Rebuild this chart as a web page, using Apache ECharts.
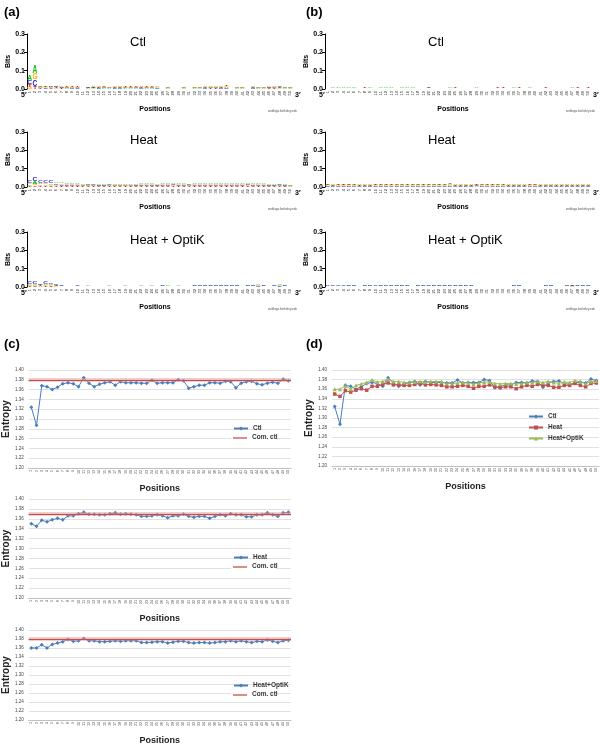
<!DOCTYPE html>
<html><head><meta charset="utf-8">
<script src="https://cdn.jsdelivr.net/npm/echarts@6/dist/echarts.min.js"></script>
<style>html,body{margin:0;padding:0;background:#fff}#c{width:600px;height:746px}</style>
</head><body><div id="c"></div>
<script>
// ---------- data ----------
const positions = ['1','2','3','4','5','6','7','8','9','10','11','12','13','14','15','16','17','18','19','20','21','22','23','24','25','26','27','28','29','30','31','32','33','34','35','36','37','38','39','40','41','42','43','44','45','46','47','48','49','50'];
const bitsTicks = [0, 100, 200, 300]; // milli-bits (0.0 .. 0.3 bits)

// Sequence logo letter heights, in milli-bits
const aCtl_A = [28,40,4,5,4,5,4,3,4,4, 2,3,6,4,3,3,4,5,3,3, 3,4,3,3,5,2,3,2,2,3, 2,3,3,4,7,7,6,5,2,3, 3,2,8,3,3,4,5,4,3,3];
const aCtl_C = [20,35,5,4,6,5,4,4,3,3, 2,3,4,3,3,3,3,3,3,3, 3,3,3,3,3,2,3,2,2,3, 2,3,3,3,4,4,3,4,2,3, 3,2,3,3,3,4,4,4,3,3];
const aCtl_G = [12,35,4,4,4,4,4,4,4,3, 2,2,3,3,3,3,3,3,3,3, 3,3,3,3,3,2,3,2,2,3, 2,3,3,3,4,4,3,5,2,3, 3,2,4,3,3,4,4,3,3,3];
const aCtl_T = [15,15,3,4,3,4,3,4,4,8, 2,3,3,3,3,2,3,3,3,3, 3,3,3,3,2,2,2,2,2,2, 2,2,2,3,3,3,3,6,2,2, 2,2,5,2,2,3,3,3,2,2];

const aHeat_A = [8,12,9,8,8,9,9,8,7,6, 5,5,5,6,6,5,5,5,5,6, 6,7,8,6,6,7,6,8,8,6, 5,7,7,6,6,7,7,6,6,6, 6,7,6,6,6,6,6,5,6,3];
const aHeat_C = [15,22,10,10,11,8,7,6,6,5, 4,5,5,5,5,5,4,4,4,4, 5,5,5,5,5,5,5,6,5,5, 5,5,5,5,5,5,5,5,5,5, 5,6,5,5,5,5,5,5,5,3];
const aHeat_G = [8,10,8,8,7,7,7,6,6,5, 4,4,4,4,4,4,4,4,4,4, 4,5,5,5,4,5,5,5,5,5, 4,5,5,5,5,5,5,5,5,5, 5,5,5,5,5,4,4,4,4,3];
const aHeat_T = [6,8,6,6,6,5,5,5,4,4, 3,3,3,3,3,3,3,3,3,3, 3,4,4,4,3,4,4,4,4,4, 3,4,4,4,4,4,4,4,4,4, 4,4,4,4,4,3,3,3,3,2];

const aOpt_A = [5,6,4,7,6,4,3,2,2,2, 2,3,2,2,2,3,2,2,3,2, 2,3,2,3,2,3,3,2,3,2, 2,3,3,3,3,3,3,3,3,3, 2,3,3,5,3,2,3,4,3,2];
const aOpt_C = [10,11,8,10,7,5,3,2,2,3, 2,2,2,2,2,2,2,2,2,2, 2,2,2,2,2,3,2,2,2,2, 2,3,3,3,3,3,3,3,3,3, 2,3,3,3,3,2,3,3,3,2];
const aOpt_G = [6,6,5,6,5,3,2,2,2,2, 2,2,2,2,2,2,2,2,2,2, 2,2,2,2,2,2,2,2,2,2, 2,2,2,2,2,2,2,2,2,2, 2,2,2,3,2,2,2,3,2,2];
const aOpt_T = [4,4,4,4,4,3,2,2,2,2, 2,2,2,2,2,2,2,2,2,2, 2,2,2,2,2,2,2,2,2,2, 2,2,2,2,2,2,2,2,2,2, 2,2,2,2,2,2,2,2,2,2];

const bCtl_A = [1,3,3,3,3,3,2,2,3,2, 3,3,3,1,3,3,3,2,2,3, 2,2,2,3,2,2,2,2,3,2, 2,2,2,2,2,3,2,2,3,2, 2,2,2,2,2,2,3,2,2,2];
const bCtl_C = [1,2,2,2,2,2,1,2,2,2, 2,2,2,1,2,2,2,1,2,2, 2,2,2,2,2,2,2,2,2,2, 2,2,2,2,2,2,2,2,2,2, 2,2,2,2,2,2,2,2,2,2];
const bCtl_G = [1,2,2,2,2,2,1,2,2,2, 2,2,2,1,2,2,2,1,2,2, 2,2,2,2,2,2,2,2,2,2, 2,2,2,2,2,2,2,2,2,2, 2,2,2,2,2,2,2,2,2,2];
const bCtl_T = [1,1,1,1,1,1,1,3,2,2, 2,2,2,1,1,1,1,2,2,4, 2,2,2,2,5,2,2,2,2,2, 2,2,3,4,2,2,4,2,2,2, 2,4,2,2,2,2,2,4,2,4];

const bHeat_A = [5,4,5,5,5,5,4,4,4,5, 5,5,6,5,5,5,5,5,5,5, 5,5,5,7,4,4,4,4,4,5, 5,5,5,5,4,4,4,4,5,5, 4,4,4,4,4,4,4,4,4,4];
const bHeat_C = [4,3,4,4,4,4,3,3,3,4, 4,4,4,4,4,4,4,4,4,4, 4,4,4,4,3,3,3,3,4,4, 4,4,4,4,3,3,3,3,4,4, 3,3,3,3,3,3,3,3,3,3];
const bHeat_G = [4,3,4,4,4,4,3,3,3,4, 4,4,4,4,4,4,4,4,4,4, 4,4,4,5,3,3,3,3,4,4, 4,4,4,4,3,3,3,3,4,4, 3,3,3,3,3,3,3,3,3,3];
const bHeat_T = [4,3,5,5,5,4,3,3,3,5, 4,5,5,4,4,4,4,4,4,4, 4,4,4,8,3,3,3,3,4,4, 4,5,4,4,3,3,3,3,5,5, 3,3,3,3,3,3,3,3,3,3];

const bOpt_A = [2,2,2,2,3,3,2,3,3,2, 3,4,3,3,3,3,2,3,3,3, 3,3,3,3,3,3,3,3,2,2, 2,2,2,2,2,3,3,2,2,2, 2,3,3,2,2,3,3,3,3,3];
const bOpt_C = [3,3,3,3,3,3,2,3,3,3, 3,3,3,3,3,3,2,3,3,3, 3,3,3,3,3,3,3,3,2,2, 2,2,2,2,2,3,3,2,2,2, 2,3,3,2,2,3,3,3,3,3];
const bOpt_G = [2,2,2,2,2,2,2,2,2,2, 2,2,2,2,2,2,2,2,2,2, 2,2,2,2,2,2,2,2,2,2, 2,2,2,2,2,2,2,2,2,2, 2,2,2,2,2,2,2,2,2,2];
const bOpt_T = [2,2,2,2,2,2,2,2,2,2, 2,2,2,2,2,2,2,2,2,2, 2,2,2,2,2,2,2,2,2,2, 2,2,2,2,2,2,2,2,2,2, 2,2,2,2,2,2,3,2,2,2];

// Entropy per position
const entropyCtl = [1.324,1.287,1.368,1.366,1.360,1.365,1.372,1.374,1.372,1.366, 1.384,1.373,1.366,1.371,1.374,1.376,1.369,1.376,1.374,1.374, 1.374,1.373,1.373,1.379,1.373,1.374,1.374,1.374,1.380,1.378, 1.363,1.366,1.369,1.369,1.374,1.374,1.373,1.377,1.376,1.364, 1.373,1.376,1.377,1.372,1.370,1.373,1.375,1.373,1.381,1.378];
const entropyHeat = [1.350,1.345,1.357,1.354,1.358,1.361,1.358,1.366,1.366,1.370, 1.373,1.369,1.369,1.368,1.368,1.370,1.372,1.369,1.370,1.369, 1.368,1.365,1.365,1.366,1.368,1.366,1.362,1.366,1.366,1.369, 1.365,1.363,1.365,1.365,1.361,1.365,1.368,1.366,1.370,1.368, 1.368,1.364,1.364,1.368,1.368,1.372,1.368,1.365,1.372,1.373];
const entropyOpt = [1.360,1.360,1.367,1.360,1.368,1.371,1.374,1.379,1.375,1.376, 1.381,1.376,1.376,1.374,1.374,1.375,1.376,1.375,1.376,1.376, 1.376,1.372,1.372,1.373,1.374,1.374,1.371,1.373,1.375,1.375, 1.372,1.371,1.372,1.372,1.371,1.372,1.374,1.374,1.376,1.374, 1.376,1.374,1.372,1.375,1.374,1.378,1.375,1.372,1.376,1.377];
const comCtlC1 = 1.375;
const comCtlC2 = 1.370;
const comCtlC3 = 1.376;
const entropyTicks = [1.20,1.22,1.24,1.26,1.28,1.30,1.32,1.34,1.36,1.38,1.40];

// ---------- layout ----------
const FONT = 'Liberation Sans, Arial, sans-serif';
const LETTERS = ['A','C','G','T'];
const LCOL = ['#10c010','#1a1ad0','#ffae00','#d01010'];
const logos = [
  {title:'Ctl', L:[aCtl_A,aCtl_C,aCtl_G,aCtl_T], left:27, width:266, top:34},
  {title:'Heat', L:[aHeat_A,aHeat_C,aHeat_G,aHeat_T], left:27, width:266, top:132},
  {title:'Heat + OptiK', L:[aOpt_A,aOpt_C,aOpt_G,aOpt_T], left:27, width:266, top:232},
  {title:'Ctl', L:[bCtl_A,bCtl_C,bCtl_G,bCtl_T], left:325, width:266, top:34},
  {title:'Heat', L:[bHeat_A,bHeat_C,bHeat_G,bHeat_T], left:325, width:266, top:132},
  {title:'Heat + OptiK', L:[bOpt_A,bOpt_C,bOpt_G,bOpt_T], left:325, width:266, top:232}
];
const LOGO_H = 55;

const grids=[], xAxes=[], yAxes=[], series=[], graphics=[];

function logoRender(params, api){
  const pos=api.value(0), base=api.value(1), h=api.value(2), li=api.value(3);
  const p0=api.coord([pos, base]), p1=api.coord([pos, base+h]);
  const hpx=p0[1]-p1[1];
  if(hpx<=0) return;
  const w=api.size([1,0])[0]*0.9;
  return {type:'text', x:p0[0], y:(p0[1]+p1[1])/2+hpx*0.06, scaleX:w/7.2, scaleY:hpx/7.2,
    style:{text:LETTERS[li], fontSize:10, fontWeight:'bold', fontFamily:FONT, fill:LCOL[li], align:'center', verticalAlign:'middle'}};
}

logos.forEach((lg, gi)=>{
  grids.push({left:lg.left, top:lg.top, width:lg.width, height:LOGO_H});
  xAxes.push({type:'category', gridIndex:gi, data:positions, boundaryGap:true,
    axisLine:{show:false}, axisTick:{show:false},
    axisLabel:{interval:0, rotate:90, fontSize:4, color:'#222', margin:2, fontFamily:FONT}});
  yAxes.push({type:'value', gridIndex:gi, min:0, max:300, interval:100,
    axisLine:{show:true, lineStyle:{color:'#000', width:1}}, axisTick:{show:true, length:3, lineStyle:{color:'#000'}},
    splitLine:{show:false},
    axisLabel:{fontSize:7, fontWeight:'bold', color:'#000', margin:2, fontFamily:FONT, formatter:v=>(v/1000).toFixed(1)},
    name:'Bits', nameLocation:'middle', nameGap:15, nameTextStyle:{fontSize:7, fontWeight:'bold', color:'#000', fontFamily:FONT}});
  const data=[];
  for(let i=0;i<50;i++){
    const idx=[0,1,2,3].sort((a,b)=>lg.L[a][i]-lg.L[b][i]);
    let base=0;
    idx.forEach(li=>{ const h=lg.L[li][i]; data.push([i, base, h, li]); base+=h; });
  }
  series.push({type:'custom', xAxisIndex:gi, yAxisIndex:gi, renderItem:logoRender, data:data, encode:{x:0,y:1}, silent:true});
  const cx = lg.left + lg.width/2;
  graphics.push({type:'text', left:cx-30, top:lg.top+2, style:{text:lg.title, fontSize:13, fontFamily:FONT, fill:'#000', align:'center', width:60}, z:10});
  graphics.push({type:'text', x:cx-5, y:lg.top+LOGO_H+17, style:{text:'Positions', fontSize:7, fontWeight:'bold', fontFamily:FONT, fill:'#000', align:'center'}});
  graphics.push({type:'text', x:lg.left+lg.width+4, y:lg.top+LOGO_H+21, style:{text:'weblogo.berkeley.edu', fontSize:3, fontFamily:FONT, fill:'#555', align:'right'}});
  graphics.push({type:'text', x:lg.left-6, y:lg.top+LOGO_H+3, style:{text:"5′", fontSize:7, fontWeight:'bold', fontFamily:FONT, fill:'#000'}});
  graphics.push({type:'text', x:lg.left+lg.width+2, y:lg.top+LOGO_H+3, style:{text:"3′", fontSize:7, fontWeight:'bold', fontFamily:FONT, fill:'#000'}});
});

// entropy charts
const BLUE='#4A7EBB', RED='#C0504D', GREEN='#9BBB59';
const ent = [
  {left:25, width:266, top:370, height:98},
  {left:25, width:266, top:499, height:99},
  {left:25, width:266, top:630, height:96},
  {left:332, width:267, top:370, height:96}
];
ent.forEach((g,k)=>{
  const gi=6+k;
  grids.push({left:g.left, top:g.top, width:g.width, height:g.height});
  xAxes.push({type:'category', gridIndex:gi, data:positions, boundaryGap:true,
    axisLine:{show:true, lineStyle:{color:'#bfbfbf'}}, axisTick:{show:false},
    axisLabel:{interval:0, rotate:90, fontSize:3.6, color:'#444', margin:2, fontFamily:FONT},
    name:'Positions', nameLocation:'middle', nameGap:16, nameTextStyle:{fontSize:9, fontWeight:'bold', color:'#222', fontFamily:FONT}});
  yAxes.push({type:'value', gridIndex:gi, min:1.20, max:1.40, interval:0.02,
    axisLine:{show:false}, axisTick:{show:false},
    splitLine:{show:true, lineStyle:{color:'#d9d9d9', width:0.8}},
    axisLabel:{fontSize:4.5, color:'#444', margin:5, fontFamily:FONT, formatter:v=>v.toFixed(2)},
    name:'Entropy', nameLocation:'middle', nameGap:17, nameTextStyle:{fontSize:10, fontWeight:'bold', color:'#222', fontFamily:FONT}});
});

function lineSeries(name, data, gi, color, symbol, size){
  return {type:'line', name:name, xAxisIndex:gi, yAxisIndex:gi, data:data, symbol:symbol, symbolSize:size,
    lineStyle:{color:color, width:1}, itemStyle:{color:color}, showSymbol:true};
}
function comSeries(v, gi){
  return {type:'line', xAxisIndex:gi, yAxisIndex:gi, data:[], symbol:'none',
    lineStyle:{color:RED, width:1.2}, itemStyle:{color:RED},
    markLine:{silent:true, symbol:'none', label:{show:false}, animation:false,
      data:[{yAxis:v, lineStyle:{color:'rgba(225,140,140,0.55)', width:3.5, type:'solid'}},
            {yAxis:v, lineStyle:{color:RED, width:1, type:'solid'}}]}};
}
series.push(lineSeries('Ctl', entropyCtl, 6, BLUE, 'diamond', 4));
series.push(comSeries(comCtlC1, 6));
series.push(lineSeries('Heat', entropyHeat, 7, BLUE, 'diamond', 4));
series.push(comSeries(comCtlC2, 7));
series.push(lineSeries('Heat+OptiK', entropyOpt, 8, BLUE, 'diamond', 4));
series.push(comSeries(comCtlC3, 8));
series.push(lineSeries('Ctl#d', entropyCtl, 9, BLUE, 'diamond', 4));
series.push(lineSeries('Heat#d', entropyHeat, 9, RED, 'rect', 3.5));
series.push(lineSeries('Heat+OptiK#d', entropyOpt, 9, GREEN, 'triangle', 4));

const legStyle = {orient:'vertical', itemWidth:14, itemHeight:5, itemGap:4, z:50,
  textStyle:{fontSize:6.5, fontWeight:'bold', color:'#333', fontFamily:FONT},
  formatter:n=>n.replace(/#.*/, '')};
const legends = [
  Object.assign({left:228, top:420, data:['Ctl']}, legStyle),
  Object.assign({left:228, top:549, data:['Heat']}, legStyle),
  Object.assign({left:228, top:677, data:['Heat+OptiK']}, legStyle),
  Object.assign({left:523, top:408, data:['Ctl#d','Heat#d','Heat+OptiK#d']}, legStyle)
];
// "Com. ctl" legend rows (plain red line, as in the reference)
[420, 549, 677].forEach(t=>{
  const yy = t + 18;
  graphics.push({type:'rect', shape:{x:231, y:yy-5, width:45, height:10}, style:{fill:'#fff'}, z:90});
  graphics.push({type:'line', shape:{x1:233, y1:yy, x2:247, y2:yy}, style:{stroke:RED, lineWidth:1.3}, z:100});
  graphics.push({type:'text', x:252, y:yy-4, style:{text:'Com. ctl', fontSize:6.5, fontWeight:'bold', fontFamily:FONT, fill:'#333'}, z:100});
});

// panel labels
[['(a)',4,6],['(b)',306,6],['(c)',4,338],['(d)',306,338]].forEach(p=>{
  graphics.push({type:'text', x:p[1], y:p[2], style:{text:p[0], fontSize:13, fontWeight:'bold', fontFamily:FONT, fill:'#000'}});
});

const chart = echarts.init(document.getElementById('c'), null, {renderer:'canvas'});
chart.setOption({
  animation:false, backgroundColor:'#fff',
  grid:grids, xAxis:xAxes, yAxis:yAxes, series:series, legend:legends, graphic:graphics
});
</script></body></html>
